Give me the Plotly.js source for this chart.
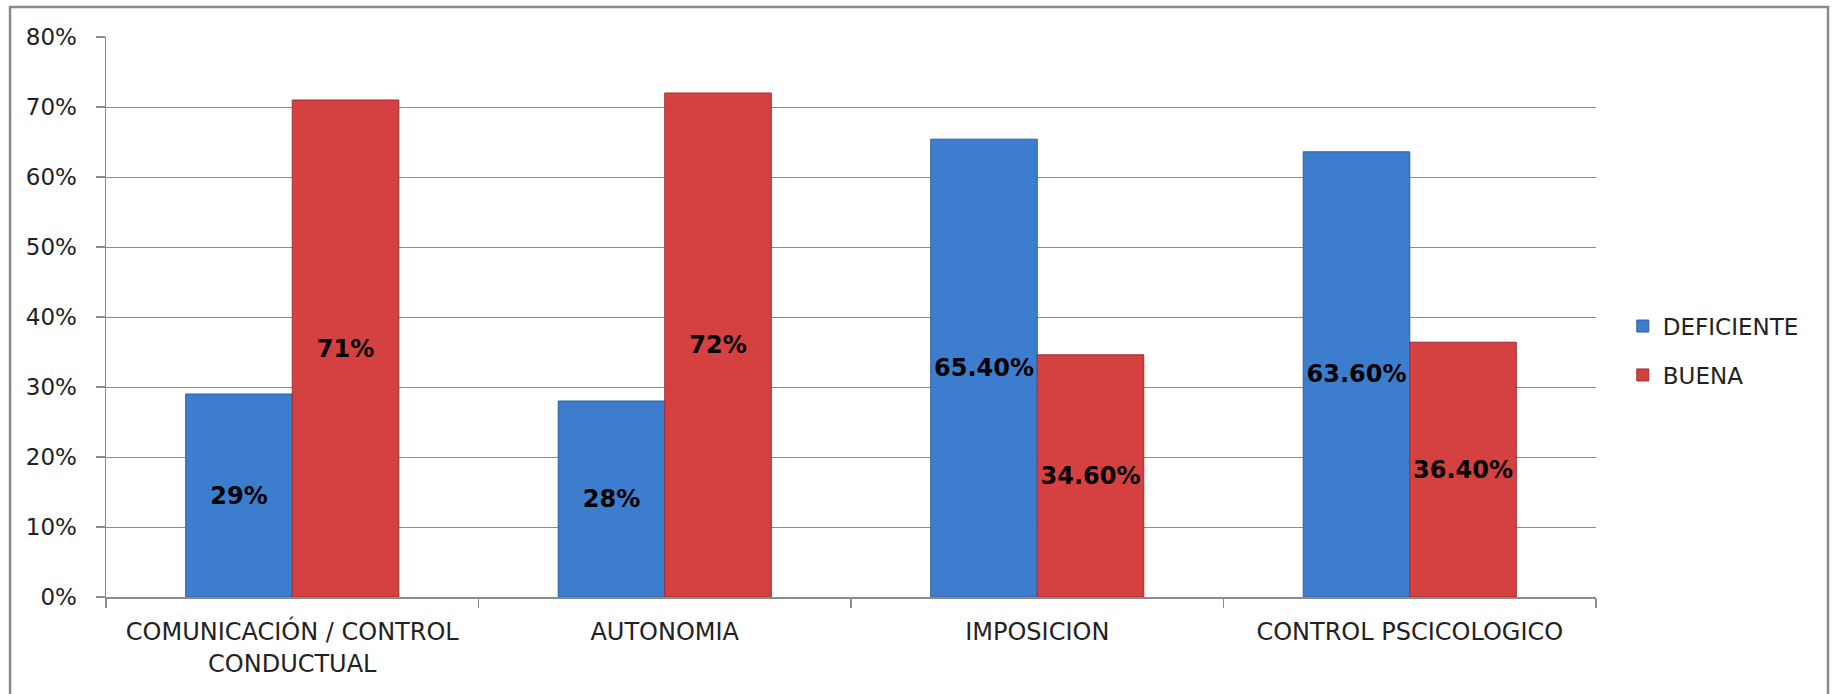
<!DOCTYPE html>
<html>
<head>
<meta charset="utf-8">
<script src="https://cdn.plot.ly/plotly-3.0.1.min.js"></script>
<style>
  html, body { margin: 0; padding: 0; background: #ffffff; }
  #chart { width: 1833px; height: 694px; }
</style>
</head>
<body>
<div id="chart"></div>
<script>
const categories = ['COMUNICACIÓN / CONTROL<br>CONDUCTUAL', 'AUTONOMIA', 'IMPOSICION', 'CONTROL PSCICOLOGICO'];
const deficienteValues = [29, 28, 65.4, 63.6];
const buenaValues = [71, 72, 34.6, 36.4];
const deficienteLabels = ['29%', '28%', '65.40%', '63.60%'];
const buenaLabels = ['71%', '72%', '34.60%', '36.40%'];
const yTickValues = [0, 10, 20, 30, 40, 50, 60, 70, 80];
const yTickLabels = ['0%', '10%', '20%', '30%', '40%', '50%', '60%', '70%', '80%'];

const FONT = 'DejaVu Sans, Open Sans, sans-serif';
const labelFont = { family: FONT, size: 24, color: '#000000', weight: 'bold' };

const traces = [
  {
    type: 'bar', name: 'DEFICIENTE', x: categories, y: deficienteValues,
    text: deficienteLabels, textposition: 'inside', insidetextanchor: 'middle',
    constraintext: 'none', textfont: labelFont, insidetextfont: labelFont,
    marker: { color: '#3D7DCE', line: { color: '#2E5F9E', width: 1 } },
    legendgroup: 'a', hoverinfo: 'none'
  },
  {
    type: 'bar', name: 'BUENA', x: categories, y: buenaValues,
    text: buenaLabels, textposition: 'inside', insidetextanchor: 'middle',
    constraintext: 'none', textfont: labelFont, insidetextfont: labelFont,
    marker: { color: '#D54141', line: { color: '#9E2E2E', width: 1 } },
    legendgroup: 'b', hoverinfo: 'none'
  }
];

const layout = {
  width: 1833, height: 694,
  margin: { l: 106, r: 237, t: 37, b: 97, pad: 0 },
  paper_bgcolor: '#ffffff', plot_bgcolor: '#ffffff',
  barmode: 'group', bargap: 0.428, bargroupgap: 0,
  font: { family: FONT, size: 23, color: '#222222' },
  showlegend: true,
  legend: {
    x: 1.018, xanchor: 'left', y: 0.44, yanchor: 'middle',
    font: { family: FONT, size: 23, color: '#222222' },
    traceorder: 'grouped', tracegroupgap: 16, bgcolor: 'rgba(0,0,0,0)'
  },
  xaxis: {
    type: 'category', showgrid: false, showline: true, linecolor: '#8c8c8c', linewidth: 1.5,
    ticks: 'outside', tickson: 'boundaries', ticklen: 9, tickcolor: '#8c8c8c', tickwidth: 1.5,
    ticklabelstandoff: 13,
    tickfont: { family: FONT, size: 24, color: '#222222' },
    zeroline: false, fixedrange: true
  },
  yaxis: {
    range: [0, 80], tickvals: yTickValues, ticktext: yTickLabels,
    showgrid: true, gridcolor: '#8c8c8c', gridwidth: 1,
    showline: true, linecolor: '#8c8c8c', linewidth: 1.5,
    ticks: 'outside', ticklen: 9, tickcolor: '#8c8c8c', tickwidth: 1.5,
    ticklabelstandoff: 14,
    tickfont: { family: FONT, size: 23, color: '#222222' },
    zeroline: false, fixedrange: true
  },
  shapes: [
    {
      type: 'rect', xref: 'paper', yref: 'paper',
      x0: -0.0644, x1: 1.1557, y0: -0.2, y1: 1.0536,
      line: { color: '#8a8a8a', width: 2.5 }, fillcolor: 'rgba(0,0,0,0)', layer: 'below'
    }
  ]
};

Plotly.newPlot('chart', traces, layout, { displayModeBar: false, staticPlot: true });
</script>
</body>
</html>
